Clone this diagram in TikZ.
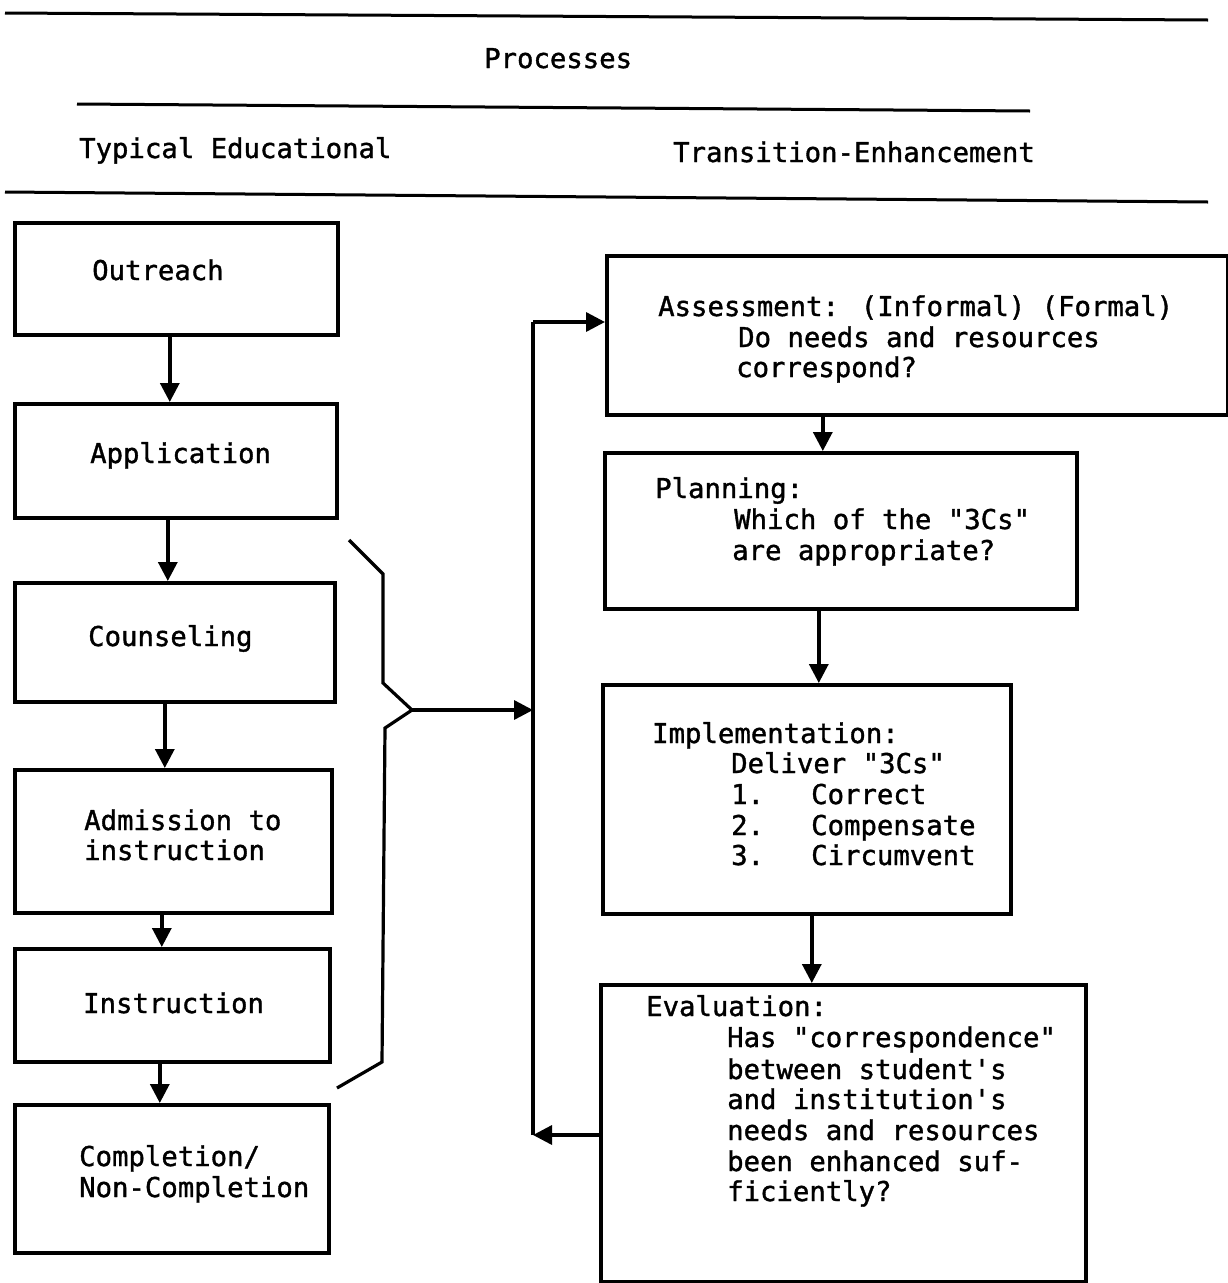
\documentclass[tikz,border=0pt]{standalone}
\usepackage{fontspec}
\newfontfamily\lgfont[FakeBold=1.3]{DejaVu Sans Mono}
\usetikzlibrary{arrows.meta}
\begin{document}
\begin{tikzpicture}[x=1pt,y=-1pt,
  box/.style={draw, line width=3.6pt, anchor=north west, inner sep=0pt},
  txt/.style={anchor=base west, inner sep=0pt, font=\lgfont\fontsize{27.3}{30}\selectfont},
  arr/.style={line width=3.4pt, -{Triangle[length=19pt,width=19pt]}},
  rule/.style={line width=3pt},
  brace/.style={line width=3.2pt, line join=miter}]
\useasboundingbox (0,0) rectangle (1228,1283);
% header rules
\draw[rule] (5,13) -- (1208,20);
\draw[rule] (77,104) -- (1030,111);
\draw[rule] (5,192) -- (1208,202);
\node[txt] (hproc) at (484,68) {Processes};
\node[txt] (htyp) at (79,158) {Typical Educational};
\node[txt] (htrans) at (673,162) {Transition-Enhancement};
% left boxes
\node[box, minimum width=323pt, minimum height=112pt] (outreach) at (13,221) {};
\node[box, minimum width=322pt, minimum height=114pt] (application) at (13,402) {};
\node[box, minimum width=320pt, minimum height=119pt] (counseling) at (13,581) {};
\node[box, minimum width=317pt, minimum height=143pt] (admission) at (13,768) {};
\node[box, minimum width=315pt, minimum height=113pt] (instruction) at (13,947) {};
\node[box, minimum width=314pt, minimum height=148pt] (completion) at (13,1103) {};
\node[txt] (t1) at (92,280) {Outreach};
\node[txt] (t2) at (90,463) {Application};
\node[txt] (t3) at (88,646) {Counseling};
\node[txt] (t4a) at (84,830) {Admission to};
\node[txt] (t4b) at (84,860) {instruction};
\node[txt] (t5) at (83,1013) {Instruction};
\node[txt] (t6a) at (79,1166) {Completion/};
\node[txt] (t6b) at (79,1197) {Non-Completion};
% left arrows
\draw[arr] ([xshift=-6.5pt]outreach.south) -- ([xshift=-6.5pt]outreach.south |- application.north);
\draw[arr] ([xshift=-8pt]application.south) -- ([xshift=-8pt]application.south |- counseling.north);
\draw[arr] ([xshift=-10pt]counseling.south) -- ([xshift=-10pt]counseling.south |- admission.north);
\draw[arr] ([xshift=-11.5pt]admission.south) -- ([xshift=-11.5pt]admission.south |- instruction.north);
\draw[arr] ([xshift=-12.5pt]instruction.south) -- ([xshift=-12.5pt]instruction.south |- completion.north);
% right boxes
\node[box, minimum width=621pt, minimum height=159pt] (assessment) at (605,254) {};
\node[box, minimum width=472pt, minimum height=156pt] (planning) at (603,451) {};
\node[box, minimum width=408pt, minimum height=229pt] (implementation) at (601,683) {};
\node[box, minimum width=485pt, minimum height=297pt] (evaluation) at (599,983) {};
\node[txt] (a1) at (658,316) {Assessment: (Informal) (Formal)};
\node[txt] (a2) at (738,347) {Do needs and resources};
\node[txt] (a3) at (736,377) {correspond?};
\node[txt] (p1) at (655,498) {Planning:};
\node[txt] (p2) at (734,529) {Which of the "3Cs"};
\node[txt] (p3) at (732,560) {are appropriate?};
\node[txt] (i1) at (652,743) {Implementation:};
\node[txt] (i2) at (731,773) {Deliver "3Cs"};
\node[txt] (i3n) at (731,804) {1.};
\node[txt] (i3) at (811,804) {Correct};
\node[txt] (i4n) at (731,835) {2.};
\node[txt] (i4) at (811,835) {Compensate};
\node[txt] (i5n) at (731,865) {3.};
\node[txt] (i5) at (811,865) {Circumvent};
\node[txt] (e1) at (646,1016) {Evaluation:};
\node[txt] (e2) at (727,1047) {Has "correspondence"};
\node[txt] (e3) at (727,1079) {between student's};
\node[txt] (e4) at (727,1109) {and institution's};
\node[txt] (e5) at (727,1140) {needs and resources};
\node[txt] (e6) at (727,1171) {been enhanced suf-};
\node[txt] (e7) at (727,1201) {ficiently?};
% right arrows
\draw[arr] ([xshift=-18pt]planning.north |- assessment.south) -- ([xshift=-18pt]planning.north);
\draw[arr] ([xshift=12pt]implementation.north |- planning.south) -- ([xshift=12pt]implementation.north);
\draw[arr] ([xshift=5pt]implementation.south) -- ([xshift=5pt]implementation.south |- evaluation.north);
% feedback loop
\coordinate (vt) at (533,322);
\coordinate (vb) at (533,1135);
\coordinate (tip) at (412,710);
\draw[arr] (evaluation.west |- vb) -- (vb);
\draw[line width=3.4pt] (vb) -- (vt);
\draw[arr] (vt) -- (assessment.west |- vt);
% brace
\draw[brace] (349,540) -- (383,574) -- (383,683) -- (tip) -- (385,728) -- (382,1062) -- (337,1088);
\draw[arr] (tip) -- (tip -| vb);
\end{tikzpicture}
\end{document}
